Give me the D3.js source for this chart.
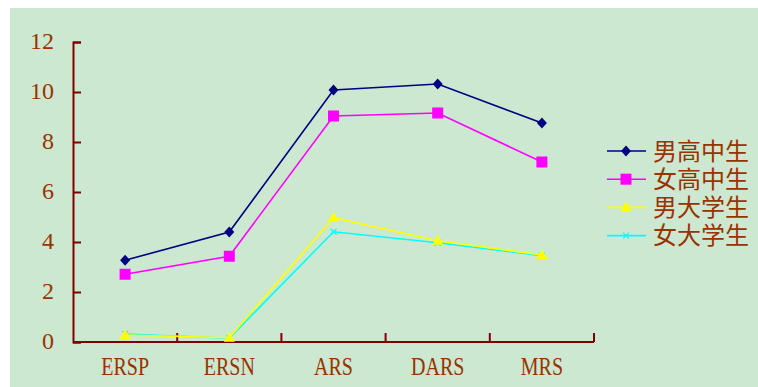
<!DOCTYPE html>
<html>
<head>
<meta charset="utf-8">
<script src="https://cdn.jsdelivr.net/npm/d3@7"></script>
<style>
  html, body { margin: 0; padding: 0; background: #ffffff; }
  svg { display: block; }
</style>
</head>
<body>
<svg id="chart" width="758" height="387"></svg>
<script>
// Scale scores by group
const categories = ["ERSP", "ERSN", "ARS", "DARS", "MRS"];
const seriesNames = ["男高中生", "女高中生", "男大学生", "女大学生"];
const maleHigh = [3.27, 4.40, 10.08, 10.32, 8.76];
const femaleHigh = [2.71, 3.43, 9.04, 9.16, 7.20];
const maleCollege = [0.28, 0.17, 4.97, 4.05, 3.48];
const femaleCollege = [0.32, 0.15, 4.41, 3.97, 3.45];
const yTicks = [0, 2, 4, 6, 8, 10, 12];

const seriesValues = [maleHigh, femaleHigh, maleCollege, femaleCollege];
const colors = ["#000080", "#ff00ff", "#ffff00", "#00ffff"];
const markers = ["diamond", "square", "triangle", "cross"];

const svg = d3.select("#chart");
const textColor = "#993300";
const axisColor = "#800000";

svg.append("rect")
  .attr("x", 10).attr("y", 8)
  .attr("width", 748).attr("height", 379)
  .attr("fill", "#cce8d0");

const x = d3.scaleBand().domain(categories).range([73, 594]).padding(0);
const y = d3.scaleLinear().domain([0, 12]).range([342, 42]);

// Y axis: ticks point inward
const yAxis = svg.append("g")
  .attr("transform", "translate(73,0)")
  .call(d3.axisRight(y).tickValues(yTicks).tickSize(8).tickFormat(() => ""));
yAxis.select(".domain").attr("stroke", axisColor).attr("stroke-width", 2);
yAxis.selectAll(".tick line").attr("stroke", axisColor).attr("stroke-width", 2);

svg.append("g").selectAll("text")
  .data(yTicks).join("text")
  .attr("x", 54).attr("y", d => y(d) - 1)
  .attr("dy", "0.34em")
  .attr("text-anchor", "end")
  .attr("font-family", "Liberation Serif, serif")
  .attr("font-size", 24)
  .attr("fill", textColor)
  .text(d => d);

// X axis with tick marks at band edges
const xAxisG = svg.append("g").attr("transform", "translate(0,342)");
xAxisG.append("line")
  .attr("x1", 73).attr("x2", 594)
  .attr("stroke", axisColor).attr("stroke-width", 2);
const edges = categories.map(c => x(c) + x.bandwidth());
xAxisG.selectAll("line.tick").data(edges).join("line")
  .attr("class", "tick")
  .attr("x1", d => d).attr("x2", d => d)
  .attr("y1", 0).attr("y2", -9)
  .attr("stroke", axisColor).attr("stroke-width", 2);

// Condensed category labels
svg.append("g").selectAll("text")
  .data(categories).join("text")
  .attr("transform", d => `translate(${x(d) + x.bandwidth() / 2},375) scale(0.8,1)`)
  .attr("text-anchor", "middle")
  .attr("font-family", "Liberation Serif, serif")
  .attr("font-size", 25)
  .attr("fill", textColor)
  .text(d => d);

function drawMarker(g, type, color, cx, cy) {
  if (type === "diamond") {
    g.append("path")
      .attr("d", `M${cx},${cy - 5.5}L${cx + 5},${cy}L${cx},${cy + 5.5}L${cx - 5},${cy}Z`)
      .attr("fill", color);
  } else if (type === "square") {
    g.append("rect")
      .attr("x", cx - 5.5).attr("y", cy - 5.5)
      .attr("width", 11).attr("height", 11)
      .attr("fill", color);
  } else if (type === "triangle") {
    g.append("path")
      .attr("d", `M${cx},${cy - 6}L${cx + 5.5},${cy + 4}L${cx - 5.5},${cy + 4}Z`)
      .attr("fill", color);
  } else {
    g.append("path")
      .attr("d", `M${cx - 3},${cy - 3}L${cx + 3},${cy + 3}M${cx - 3},${cy + 3}L${cx + 3},${cy - 3}`)
      .attr("stroke", color).attr("stroke-width", 1.2).attr("fill", "none");
  }
}

const line = d3.line()
  .x((d, i) => x(categories[i]) + x.bandwidth() / 2)
  .y(d => y(d));

// Draw back-to-front so the high-school lines sit on top
[3, 2, 1, 0].forEach(s => {
  const g = svg.append("g");
  g.append("path")
    .datum(seriesValues[s])
    .attr("d", line)
    .attr("fill", "none")
    .attr("stroke", colors[s])
    .attr("stroke-width", 1.6);
  seriesValues[s].forEach((v, i) => {
    drawMarker(g, markers[s], colors[s], x(categories[i]) + x.bandwidth() / 2, y(v));
  });
});

// Legend
const legend = svg.append("g");
seriesNames.forEach((name, i) => {
  const ly = 151 + i * 28.2;
  const g = legend.append("g");
  g.append("line")
    .attr("x1", 607).attr("x2", 646)
    .attr("y1", ly).attr("y2", ly)
    .attr("stroke", colors[i]).attr("stroke-width", 1.6);
  drawMarker(g, markers[i], colors[i], 626, ly);
  g.append("text")
    .attr("x", 653).attr("y", ly)
    .attr("dy", "0.36em")
    .attr("font-family", "Noto Sans CJK SC, sans-serif")
    .attr("font-size", 24)
    .attr("fill", textColor)
    .text(name);
});
</script>
</body>
</html>
